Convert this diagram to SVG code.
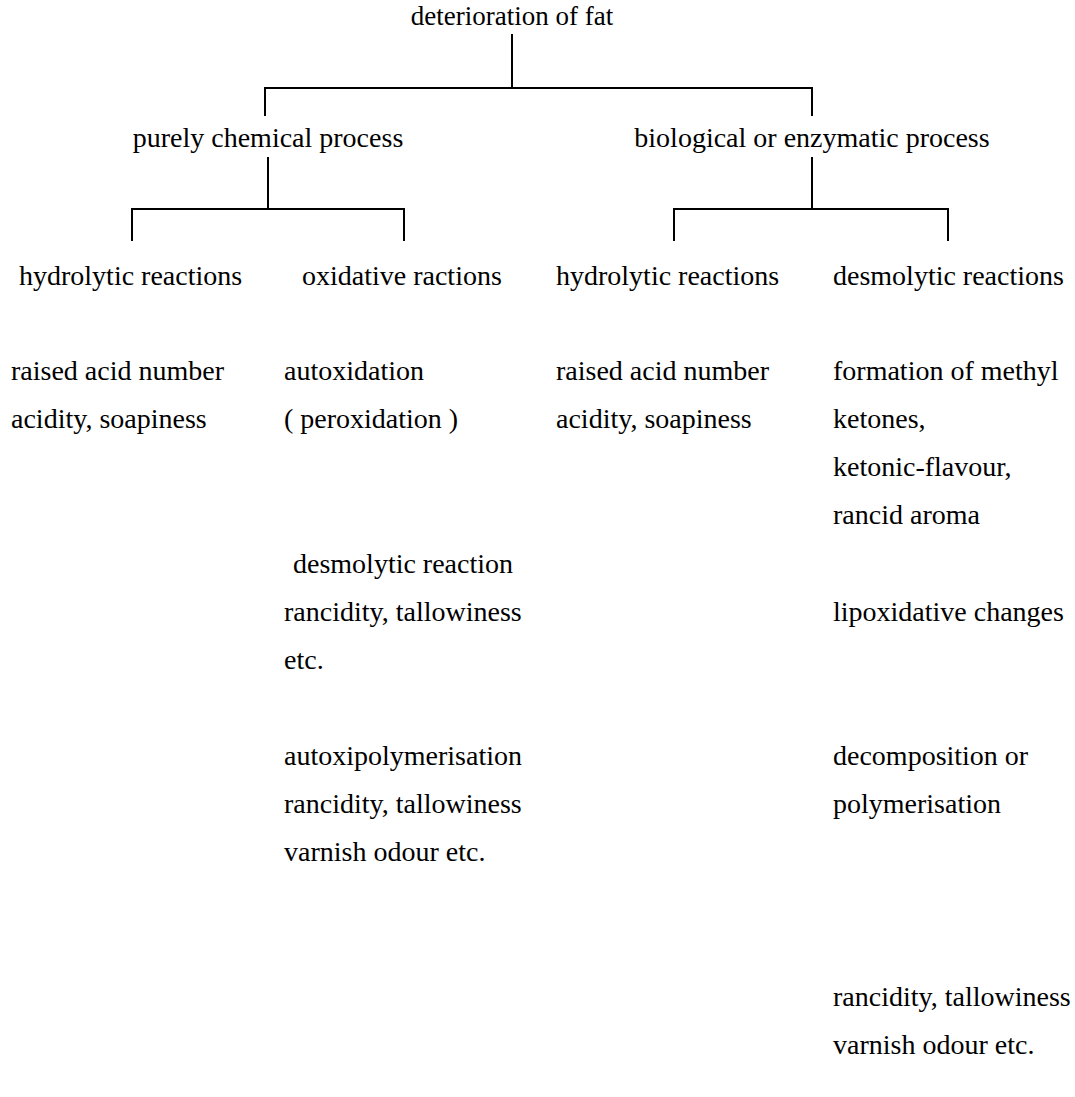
<svg xmlns="http://www.w3.org/2000/svg" width="1075" height="1097" viewBox="0 0 1075 1097">
<style>
text{font-family:"Liberation Serif","Times New Roman",serif;font-size:28px;fill:#000}
.c{text-anchor:middle}
.t{font-size:27px}
.ln{stroke:#000;stroke-width:2;fill:none}
</style>
<rect width="1075" height="1097" fill="#fff"/>
<g id="connectors">
<path class="ln" d="M512 34V88M265 116V88H812V116"/>
<path class="ln" d="M268 157V209M132 241V209H404V241"/>
<path class="ln" d="M812 157V209M674 241V209H948V241"/>
</g>
<g id="n-root"><text class="c t" x="512" y="25">deterioration of fat</text></g>
<g id="n-chem"><text class="c" x="268" y="147">purely chemical process</text></g>
<g id="n-bio"><text class="c" x="812" y="147">biological or enzymatic process</text></g>
<g id="n-hyd1"><text x="19" y="285">hydrolytic reactions</text></g>
<g id="n-oxi"><text x="302" y="285">oxidative ractions</text></g>
<g id="n-hyd2"><text x="556" y="285">hydrolytic reactions</text></g>
<g id="n-des"><text x="833" y="285">desmolytic reactions</text></g>
<g id="n-hyd1-res">
<text x="11" y="380">raised acid number</text>
<text x="11" y="428">acidity, soapiness</text>
</g>
<g id="n-autox">
<text x="284" y="380">autoxidation</text>
<text x="284" y="428">( peroxidation )</text>
</g>
<g id="n-desr">
<text x="293" y="573">desmolytic reaction</text>
<text x="284" y="621">rancidity, tallowiness</text>
<text x="284" y="669">etc.</text>
</g>
<g id="n-autoxpoly">
<text x="284" y="765">autoxipolymerisation</text>
<text x="284" y="813">rancidity, tallowiness</text>
<text x="284" y="861">varnish odour etc.</text>
</g>
<g id="n-hyd2-res">
<text x="556" y="380">raised acid number</text>
<text x="556" y="428">acidity, soapiness</text>
</g>
<g id="n-methyl">
<text x="833" y="380">formation of methyl</text>
<text x="833" y="428">ketones,</text>
<text x="833" y="476">ketonic-flavour,</text>
<text x="833" y="524">rancid aroma</text>
</g>
<g id="n-lipox"><text x="833" y="621">lipoxidative changes</text></g>
<g id="n-decomp">
<text x="833" y="765">decomposition or</text>
<text x="833" y="813">polymerisation</text>
</g>
<g id="n-rancid">
<text x="833" y="1006">rancidity, tallowiness</text>
<text x="833" y="1054">varnish odour etc.</text>
</g>
</svg>
